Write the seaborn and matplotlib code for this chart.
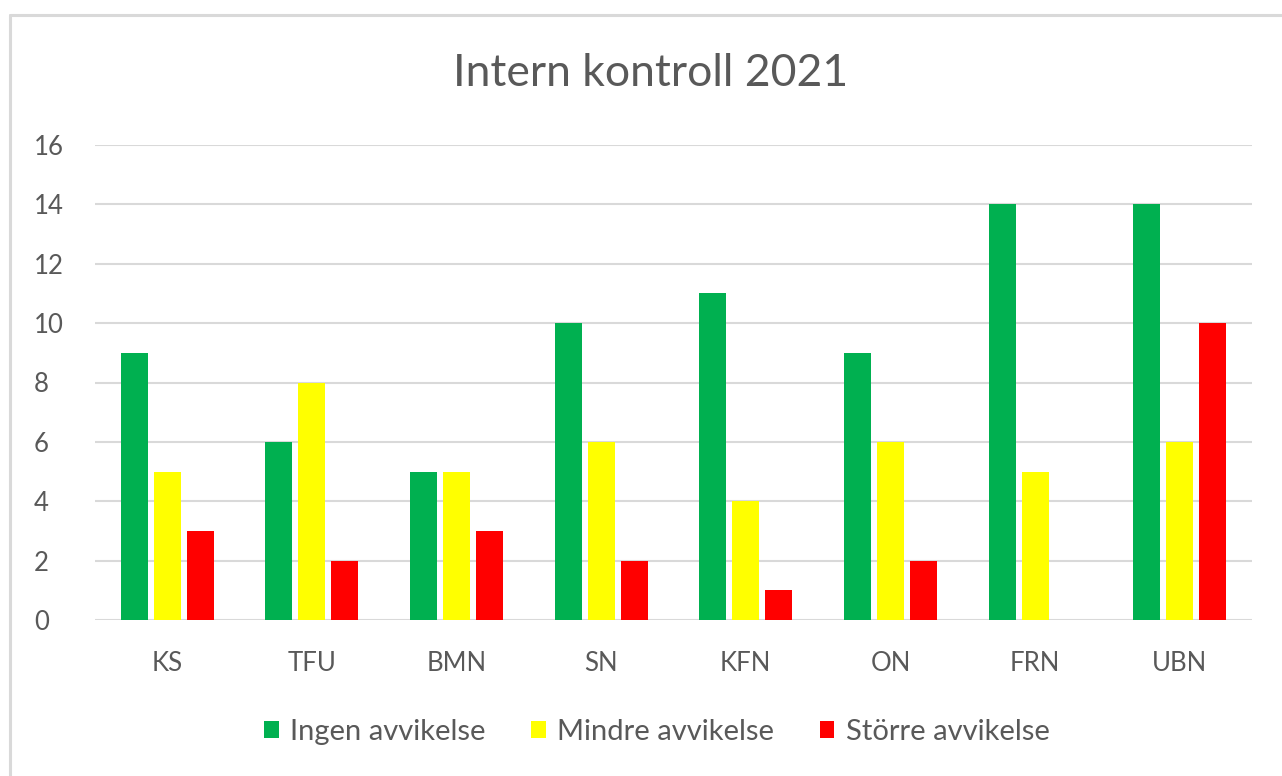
import matplotlib
matplotlib.use("Agg")
import matplotlib.pyplot as plt
import seaborn as sns
import pandas as pd
from matplotlib.lines import Line2D
from matplotlib.patches import Patch

categories = ["KS", "TFU", "BMN", "SN", "KFN", "ON", "FRN", "UBN"]
series_names = ["Ingen avvikelse", "Mindre avvikelse", "Större avvikelse"]
ingen = [9, 6, 5, 10, 11, 9, 14, 14]
mindre = [5, 8, 5, 6, 4, 6, 5, 6]
storre = [3, 2, 3, 2, 1, 2, 0, 10]
colors = ["#00B050", "#FFFF00", "#FF0000"]
yticks = [0, 2, 4, 6, 8, 10, 12, 14, 16]
title = "Intern kontroll 2021"

rows = []
for name, vals in zip(series_names, [ingen, mindre, storre]):
    for c, v in zip(categories, vals):
        rows.append({"cat": c, "val": v, "series": name})
df = pd.DataFrame(rows)

sns.set_theme(style="white")
plt.rcParams["font.family"] = ["Lato", "DejaVu Sans"]
text_color = "#595959"

W, H = 1282, 776
fig = plt.figure(figsize=(W / 100, H / 100), dpi=100)
ax = fig.add_axes([95 / W, 1 - 620 / H, (1252 - 95) / W, (620 - 145) / H])

sns.barplot(data=df, x="cat", y="val", hue="series", order=categories,
            hue_order=series_names, palette=colors, saturation=1,
            width=0.685, gap=0.18, linewidth=0, ax=ax, legend=False)

ax.set_xlim(-0.5, len(categories) - 0.5)
ax.set_ylim(0, 16)
ax.set_yticks(yticks)
ax.set_yticklabels([str(t) for t in yticks])
ax.grid(axis="y", color="#D9D9D9", linewidth=1.5, zorder=0)
ax.set_axisbelow(True)
for s in ax.spines.values():
    s.set_visible(False)
ax.tick_params(axis="both", length=0, colors=text_color, labelsize=18.5)
ax.tick_params(axis="y", pad=44)
ax.tick_params(axis="x", pad=22)
ax.set_xlabel("")
ax.set_ylabel("")
for lbl in ax.get_yticklabels():
    lbl.set_horizontalalignment("left")

fig.text(651 / W, 1 - 74 / H, title, ha="center", va="center",
         fontsize=32, color=text_color)

handles = [Patch(facecolor=c, edgecolor="none") for c in colors]
fig.legend(handles, series_names, loc="center", bbox_to_anchor=(657 / W, 1 - 732 / H),
           ncol=3, frameon=False, fontsize=21, labelcolor=text_color,
           handlelength=0.5, handleheight=0.5, handletextpad=0.4,
           columnspacing=1.55)

# chart frame (top and left edges visible)
fig.add_artist(Line2D([10 / W, 10 / W], [0, 1 - 15 / H], transform=fig.transFigure,
                      color="#D9D9D9", linewidth=2.2))
fig.add_artist(Line2D([10 / W, 1], [1 - 15 / H, 1 - 15 / H], transform=fig.transFigure,
                      color="#D9D9D9", linewidth=2.2))

fig.savefig("out.png", dpi=100, facecolor="white")
